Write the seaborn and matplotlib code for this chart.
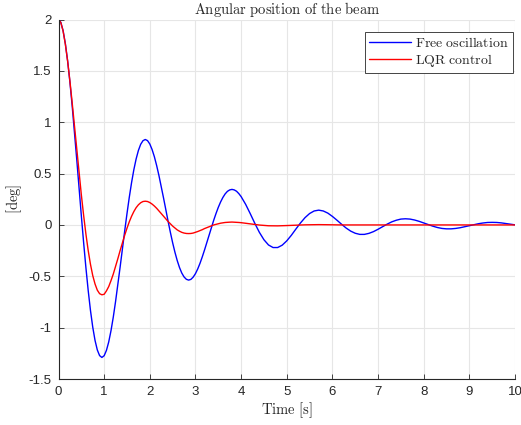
import matplotlib
matplotlib.use("Agg")
import matplotlib.pyplot as plt
import numpy as np
import pandas as pd
import seaborn as sns
from matplotlib.ticker import FuncFormatter

# time samples [s]: 0.05 s step up to 4 s (sharper curves), 0.1 s after
time_s = np.concatenate([np.linspace(0, 4, 81), np.linspace(4.1, 10, 60)])

# beam angle without control [deg]
free_osc = [
    # 0.00 - 4.00 s (0.05 s)
    2.000, 1.973, 1.893, 1.765, 1.596, 1.390, 1.156, 0.901, 0.634, 0.360,
    0.090, -0.171, -0.415, -0.637, -0.832, -0.995, -1.124, -1.217, -1.272, -1.290,
    -1.273, -1.221, -1.139, -1.029, -0.897, -0.745, -0.581, -0.409, -0.232, -0.058,
    0.110, 0.268, 0.411, 0.537, 0.642, 0.725, 0.785, 0.820, 0.832, 0.821,
    0.788, 0.734, 0.664, 0.578, 0.481, 0.375, 0.264, 0.150, 0.037, -0.071,
    -0.173, -0.265, -0.346, -0.414, -0.468, -0.506, -0.529, -0.537, -0.530, -0.508,
    -0.474, -0.428, -0.373, -0.310, -0.242, -0.170, -0.097, -0.024, 0.046, 0.111,
    0.171, 0.223, 0.267, 0.302, 0.327, 0.341, 0.346, 0.341, 0.328, 0.305,
    0.276,
    # 4.1 - 10.0 s (0.1 s)
    0.200, 0.110, 0.016, -0.072, -0.144, -0.195, -0.220, -0.220, -0.197, -0.155,
    -0.101, -0.040, 0.019, 0.071, 0.111, 0.136, 0.144, 0.136, 0.115, 0.083,
    0.046, 0.007, -0.030, -0.060, -0.081, -0.092, -0.092, -0.082, -0.065, -0.042,
    -0.017, 0.008, 0.030, 0.046, 0.057, 0.060, 0.057, 0.048, 0.035, 0.019,
    0.003, -0.012, -0.025, -0.034, -0.038, -0.038, -0.034, -0.027, -0.017, -0.007,
    0.003, 0.012, 0.019, 0.024, 0.025, 0.024, 0.020, 0.014, 0.008, 0.001,
]

# beam angle with LQR controller [deg]
lqr_ctrl = [
    # 0.00 - 4.00 s (0.05 s)
    2.000, 1.971, 1.888, 1.759, 1.594, 1.400, 1.187, 0.962, 0.734, 0.509,
    0.294, 0.094, -0.088, -0.248, -0.383, -0.493, -0.575, -0.635, -0.669, -0.680,
    -0.675, -0.642, -0.600, -0.542, -0.478, -0.403, -0.328, -0.249, -0.175, -0.100,
    -0.032, 0.030, 0.084, 0.130, 0.168, 0.196, 0.216, 0.228, 0.231, 0.228,
    0.218, 0.203, 0.184, 0.162, 0.137, 0.111, 0.085, 0.059, 0.034, 0.011,
    -0.011, -0.030, -0.048, -0.061, -0.072, -0.079, -0.083, -0.084, -0.083, -0.079,
    -0.072, -0.064, -0.055, -0.046, -0.035, -0.026, -0.017, -0.008, 0.000, 0.006,
    0.012, 0.017, 0.021, 0.024, 0.026, 0.027, 0.028, 0.027, 0.026, 0.024,
    0.022,
    # 4.1 - 10.0 s (0.1 s)
    0.016, 0.010, 0.004, -0.001, -0.005, -0.008, -0.009, -0.009, -0.008, -0.006,
    -0.004, -0.002, 0.000, 0.001, 0.002, 0.003, 0.003, 0.003, 0.002, 0.001,
    0.001, 0.000, 0.000, 0.000, 0.000, 0.000, 0.000, 0.000, 0.000, 0.000,
    0.000, 0.000, 0.000, 0.000, 0.000, 0.000, 0.000, 0.000, 0.000, 0.000,
    0.000, 0.000, 0.000, 0.000, 0.000, 0.000, 0.000, 0.000, 0.000, 0.000,
    0.000, 0.000, 0.000, 0.000, 0.000, 0.000, 0.000, 0.000, 0.000, 0.000,
]

series_names = ['Free oscillation', 'LQR control']
colors = {'Free oscillation': '#0000ff', 'LQR control': '#ff0000'}

df = pd.DataFrame({
    'time': np.concatenate([time_s, time_s]),
    'angle': np.concatenate([free_osc, lqr_ctrl]),
    'series': [series_names[0]] * len(time_s) + [series_names[1]] * len(time_s),
})

sns.set_style('ticks')
plt.rcParams['font.family'] = ['Liberation Sans', 'DejaVu Sans']
plt.rcParams['mathtext.fontset'] = 'cm'
plt.rcParams['axes.unicode_minus'] = False

fig, ax = plt.subplots(figsize=(5.21, 4.25), dpi=100)
fig.subplots_adjust(left=0.1123, right=0.9885, bottom=0.1082, top=0.9541)

sns.lineplot(data=df, x='time', y='angle', hue='series', palette=colors,
             linewidth=1.0, ax=ax, legend=True)

ax.set_xlim(0, 10)
ax.set_ylim(-1.5, 2)
ax.set_xticks(range(0, 11))
ax.set_yticks([-1.5, -1, -0.5, 0, 0.5, 1, 1.5, 2])
ax.yaxis.set_major_formatter(FuncFormatter(lambda v, p: f'{v:g}'))
ax.grid(True, color='#e6e6e6', linewidth=0.8)
ax.set_axisbelow(True)

for s in ['top', 'right']:
    ax.spines[s].set_visible(False)
for s in ['left', 'bottom']:
    ax.spines[s].set_color('#262626')
    ax.spines[s].set_linewidth(0.8)
ax.tick_params(direction='in', length=3.5, width=0.6, color='#262626',
               labelsize=9.5, labelcolor='#262626', pad=5)

ax.set_title(r'$\mathrm{Angular\ position\ of\ the\ beam}$', fontsize=10.5, pad=4)
ax.set_xlabel(r'$\mathrm{Time\ [s]}$', fontsize=10.5, labelpad=2)
ax.set_ylabel(r'$\mathrm{[deg]}$', fontsize=10.5, labelpad=3)

handles, labels = ax.get_legend_handles_labels()
leg = ax.legend(handles, [r'$\mathrm{Free\ oscillation}$', r'$\mathrm{LQR\ control}$'],
                loc='upper right', bbox_to_anchor=(0.9956, 0.965), borderaxespad=0,
                fontsize=10, frameon=True, fancybox=False, framealpha=1,
                edgecolor='#262626', handlelength=3.0, handletextpad=0.3,
                labelspacing=0.1, borderpad=0.3)
leg.get_frame().set_linewidth(0.6)

fig.savefig('out.png', dpi=100)
